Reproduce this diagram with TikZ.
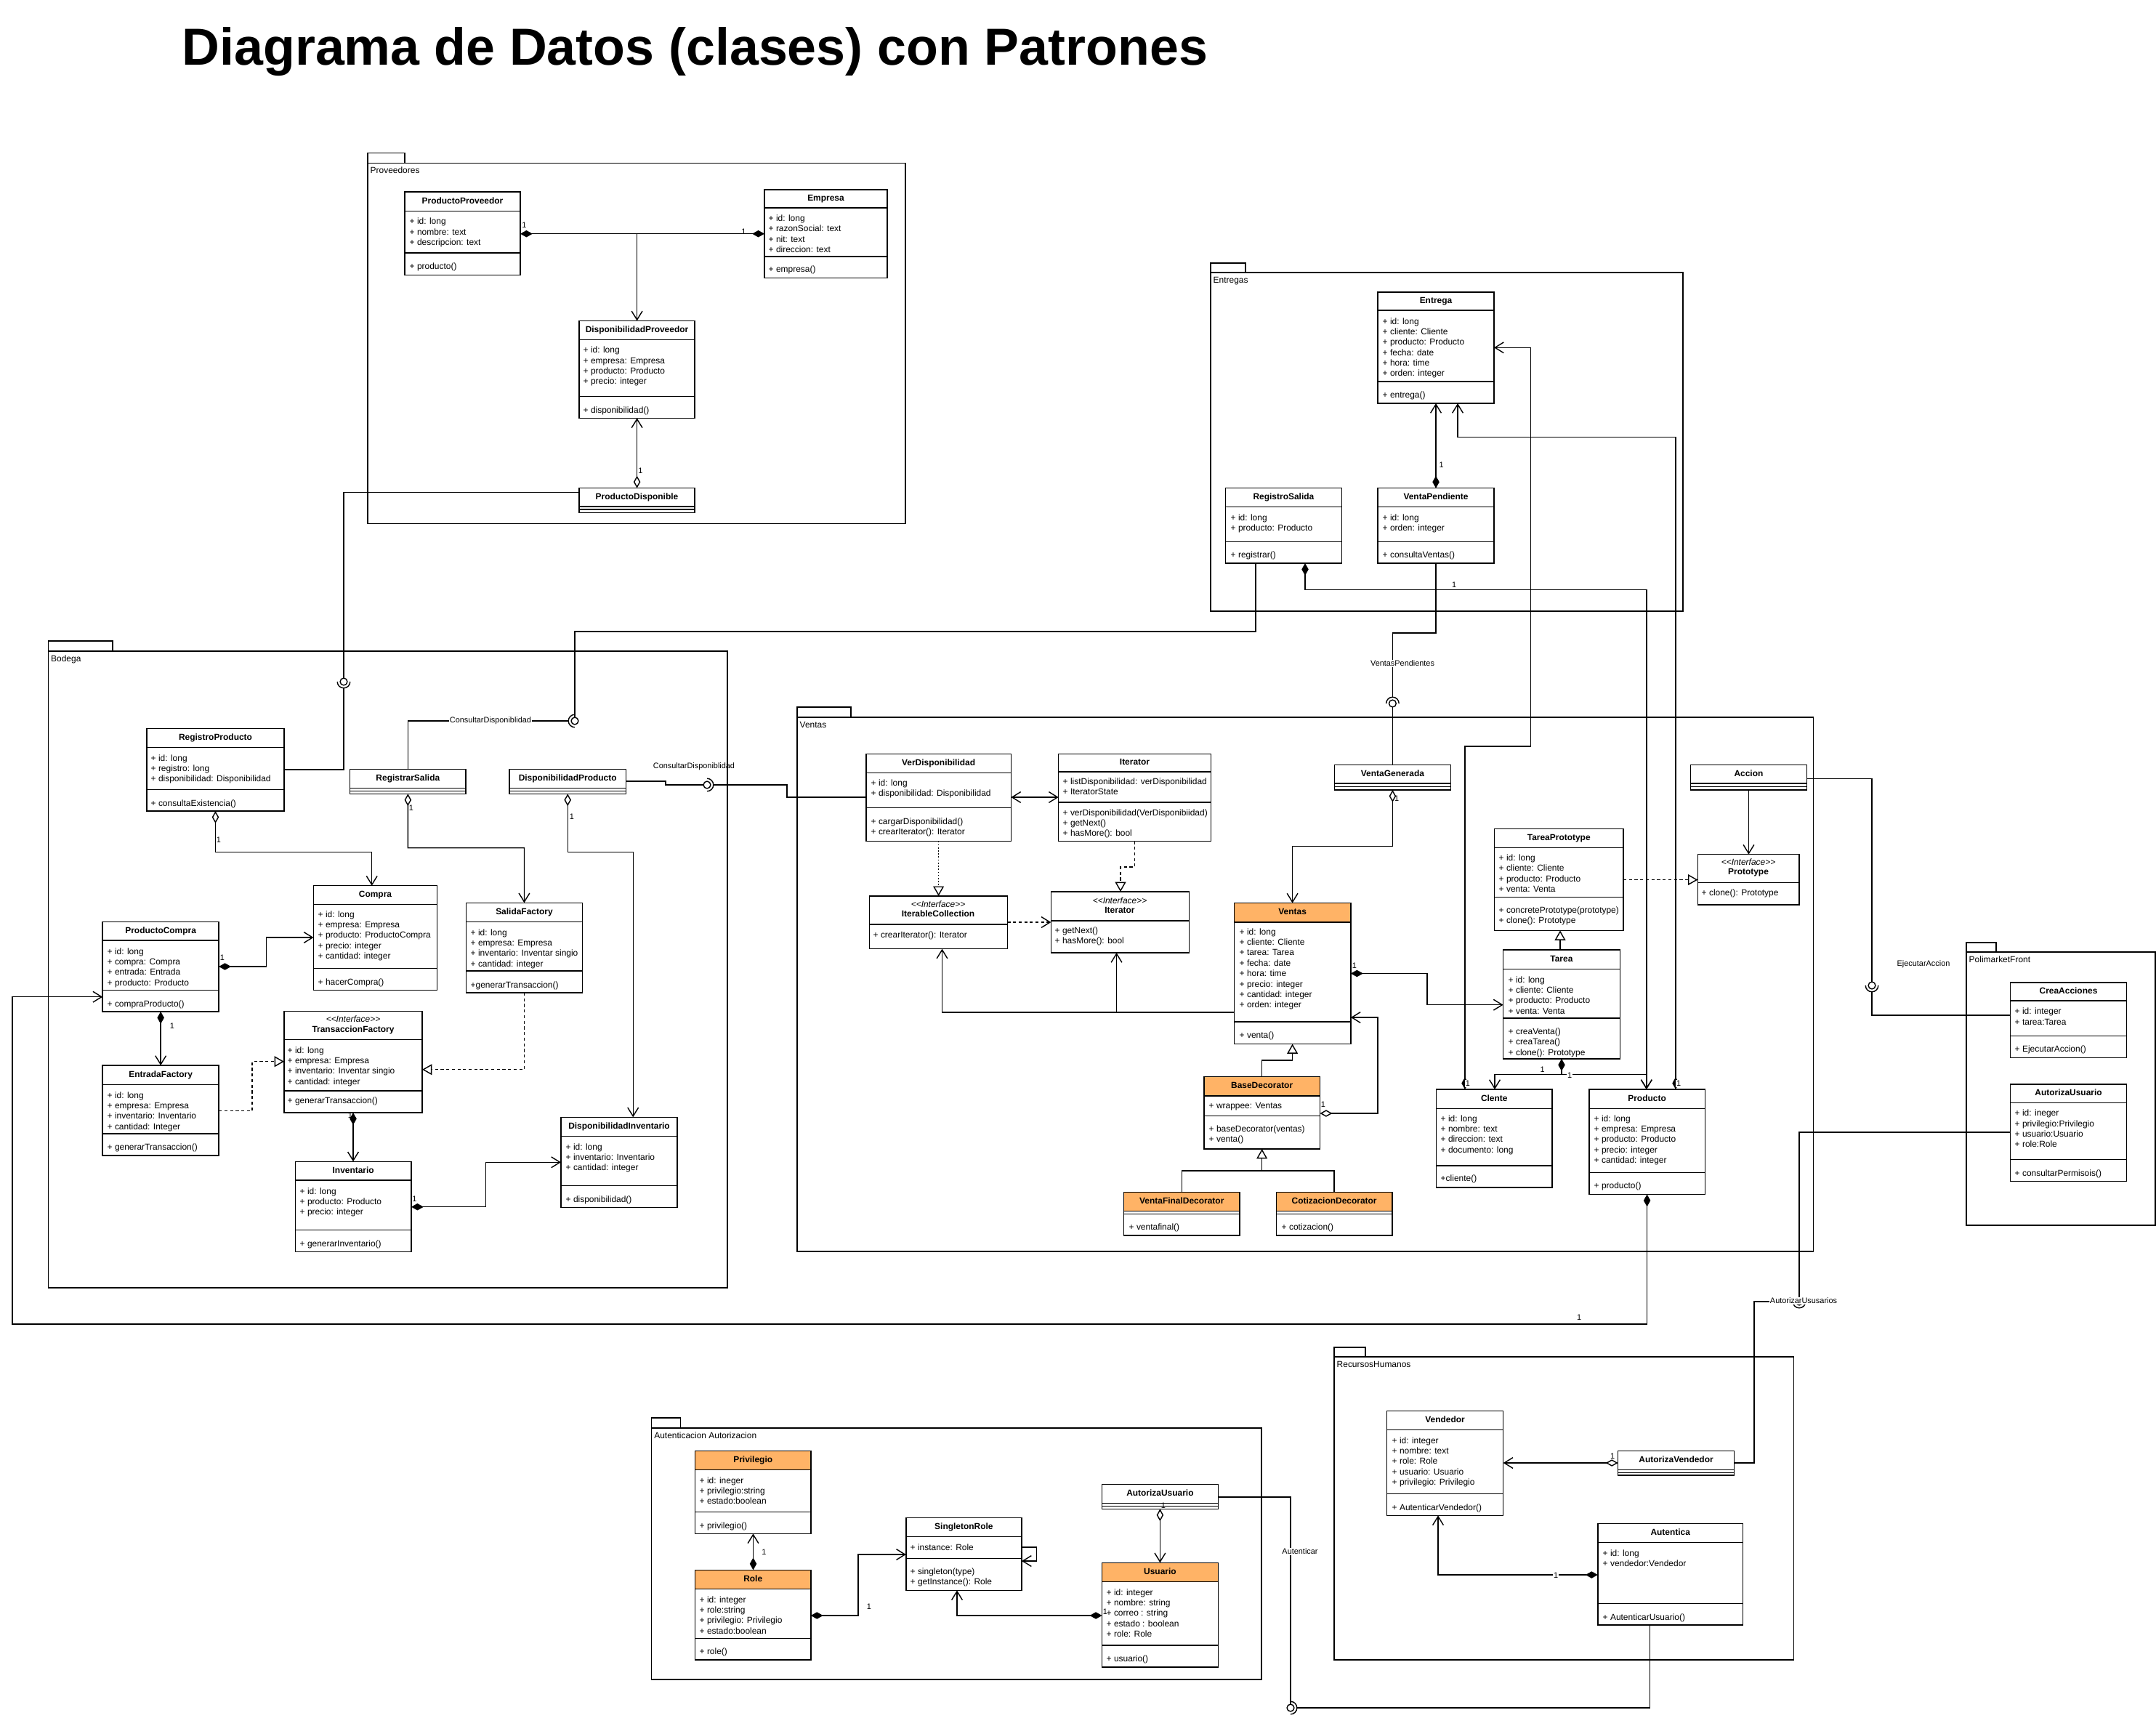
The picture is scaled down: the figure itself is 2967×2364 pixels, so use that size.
\documentclass[tikz,border=0pt]{standalone}
\usepackage{fontspec}
\setmainfont{Liberation Sans}
\usetikzlibrary{arrows.meta,fit}
\definecolor{orng}{HTML}{FFB366}
\newcommand\uf{\fontsize{3.4pt}{4.1pt}\selectfont}
\newcommand\lf{\fontsize{3.1pt}{3.7pt}\selectfont}
\newcommand\stereo{\textit{<\kern0pt<Interface>\kern0pt>}}
\tikzset{
  ln/.style={line width=0.4pt},
  ubx/.style={draw, line width=0.4pt, fill=white, inner sep=0pt, outer sep=0pt},
  pkg/.style={draw, line width=0.4pt, inner sep=0pt, outer sep=0pt},
  pkgl/.style={font=\uf, anchor=base west, inner sep=0pt},
  ttl/.style={font=\bfseries\uf, inner sep=0pt, text height=2.45pt, text depth=0.7pt},
  txt/.style={font=\uf, anchor=base west, inner sep=0pt},
  lbl/.style={font=\lf, inner sep=0.4pt},
  wlbl/.style={lbl, fill=white},
  dsh/.style={dash pattern=on 1.2pt off 1pt},
  dtt/.style={dash pattern=on 0.5pt off 0.7pt},
  umlOpen/.tip={Straight Barb[length=3.4pt,width=4.2pt]},
  umlComp/.tip={Diamond[length=4.8pt,width=2.7pt]},
  umlAgg/.tip={Diamond[length=4.8pt,width=2.7pt,fill=white]},
  umlGen/.tip={Triangle[length=3.8pt,width=4.2pt,fill=white]},
}
% class box: name, x1, y1, x2, y2, header bottom, attr bottom, header fill, title
\newcommand{\uclass}[9]{%
  \node[ubx, fit={(#2,#3) (#4,#5)}] (#1) {};
  \filldraw[ln, fill=#8] (#2,#3) rectangle (#4,#6);
  \ifx\relax#7\relax\else\draw[ln] (#2,#7) -- (#4,#7);\fi
  \node[ttl] (#1-t) at ({(#2+#4)/2},{(#3+#6)/2}) {#9};
}
\newcommand{\ulns}[3]{\foreach[count=\i] \tx in {#3}{\node[txt] at (#1,{#2+(\i-1)*14.4}) {\tx};}}
% package: name, x1, tab top, tab right, body top, x2, y2, label
\newcommand{\upkg}[8]{%
  \draw[ln] (#2,#3) rectangle (#4,#5);
  \node[pkg, fit={(#2,#5) (#6,#7)}] (#1) {};
  \node[pkgl] (#1-l) at ({#2+3},{#5+14.5}) {#8};
}
\newcommand{\ball}[2]{\draw[ln, fill=white] (#1,#2) circle[radius=1.4pt];}
\newcommand{\sock}[4]{\draw[ln] (#1,#2) ++(#3:2.5pt) arc[start angle=#3, end angle=#4, radius=2.5pt];}
\begin{document}
\begin{tikzpicture}[x=0.01cm,y=-0.01cm]
\useasboundingbox (0,0) rectangle (2967,2364);
\fill[white] (0,0) rectangle (2967,2364);

\node[anchor=base west, inner sep=0pt, font=\fontsize{20.4pt}{24pt}\selectfont\bfseries] (title) at (250,90) {Diagrama de Datos (clases) con Patrones};

% ---------------- packages
\upkg{pProv}{506}{210.8}{557}{224.3}{1246}{720.6}{Proveedores}
\upkg{pEnt}{1666}{362}{1714}{375}{2316}{841}{Entregas}
\upkg{pBod}{66.5}{882}{155}{896}{1001}{1772}{Bodega}
\upkg{pVen}{1097}{973}{1171}{987}{2495.5}{1722}{Ventas}
\upkg{pPF}{2706}{1297}{2747}{1310}{2966}{1686}{PolimarketFront}
\upkg{pAA}{896.6}{1951}{936.6}{1965}{1736}{2311}{Autenticacion Autorizacion}
\upkg{pRH}{1836}{1854}{1879}{1867}{2468.6}{2284}{RecursosHumanos}

% ---------------- Proveedores
\uclass{PP}{557}{264.2}{716}{378.5}{290.3}{348.1}{white}{ProductoProveedor}
\ulns{563}{308.8}{+ id: long, + nombre: text, + descripcion: text}
\ulns{563}{370.7}{+ producto()}
\uclass{EMP}{1052}{260.9}{1221}{382.6}{286.2}{352.8}{white}{Empresa}
\ulns{1057}{304.4}{+ id: long, + razonSocial: text, + nit: text, + direccion: text}
\ulns{1057}{374.7}{+ empresa()}
\uclass{DPROV}{797}{441.4}{956}{575.3}{467.7}{545.5}{white}{DisponibilidadProveedor}
\ulns{802}{485.6}{+ id: long, + empresa: Empresa, + producto: Producto, + precio: integer}
\ulns{802}{568}{+ disponibilidad()}
\uclass{PD}{797}{671.6}{956}{705.4}{697}{701}{white}{ProductoDisponible}

% ---------------- Entregas
\uclass{ENT}{1896}{402}{2056}{555}{427}{525}{white}{Entrega}
\ulns{1902}{446}{+ id: long, + cliente: Cliente, + producto: Producto, + fecha: date, + hora: time, + orden: integer}
\ulns{1902}{547}{+ entrega()}
\uclass{RSE}{1686.5}{671.7}{1846.3}{775}{697.3}{745.7}{white}{RegistroSalida}
\ulns{1693}{716}{+ id: long, + producto: Producto}
\ulns{1693}{767}{+ registrar()}
\uclass{VP}{1896}{671.7}{2056}{775}{697.3}{745.7}{white}{VentaPendiente}
\ulns{1902}{716}{+ id: long, + orden: integer}
\ulns{1902}{767}{+ consultaVentas()}

% ---------------- Bodega
\uclass{RP}{202}{1002.7}{391}{1116}{1028.3}{1086.7}{white}{RegistroProducto}
\ulns{207}{1047}{+ id: long, + registro: long, + disponibilidad: Disponibilidad}
\ulns{207}{1109}{+ consultaExistencia()}
\uclass{RSAL}{481.7}{1058.7}{641}{1092.3}{1084.3}{1088.3}{white}{RegistrarSalida}
\uclass{DPROD}{701}{1058.7}{861.4}{1092.3}{1084.3}{1088.3}{white}{DisponibilidadProducto}
\uclass{CMP}{431.5}{1218.7}{601.5}{1362.3}{1244.3}{1332.3}{white}{Compra}
\ulns{437}{1262}{+ id: long, + empresa: Empresa, + producto: ProductoCompra, + precio: integer, + cantidad: integer}
\ulns{437}{1355}{+ hacerCompra()}
\uclass{SF}{641.5}{1242.3}{801.4}{1366}{1268.3}{1336}{white}{SalidaFactory}
\ulns{647}{1287}{+ id: long, + empresa: Empresa, + inventario: Inventar singio, + cantidad: integer}
\ulns{647}{1359}{+generarTransaccion()}
\uclass{PC}{141.2}{1268.3}{301.1}{1392}{1294}{1362.3}{white}{ProductoCompra}
\ulns{147}{1313}{+ id: long, + compra: Compra, + entrada: Entrada, + producto: Producto}
\ulns{147}{1385}{+ compraProducto()}
\uclass{TF}{391}{1391.3}{581}{1531}{1430.7}{1501}{white}{}
\node[lbl, font=\uf] (TF-s) at (486,1402) {\stereo};
\node[ttl] (TF-n) at (486,1417) {TransaccionFactory};
\ulns{395}{1449}{+ id: long, + empresa: Empresa, + inventario: Inventar singio, + cantidad: integer}
\ulns{395}{1518}{+ generarTransaccion()}
\uclass{EF}{141.2}{1466}{301.1}{1590}{1492.3}{1560}{white}{EntradaFactory}
\ulns{147}{1511}{+ id: long, + empresa: Empresa, + inventario: Inventario, + cantidad: Integer}
\ulns{147}{1582}{+ generarTransaccion()}
\uclass{INV}{406.4}{1598.3}{566}{1722.3}{1624}{1692.3}{white}{Inventario}
\ulns{412}{1643}{+ id: long, + producto: Producto, + precio: integer}
\ulns{412}{1715}{+ generarInventario()}
\uclass{DI}{772}{1537.3}{932}{1661.3}{1563.3}{1631.7}{white}{DisponibilidadInventario}
\ulns{778}{1582}{+ id: long, + inventario: Inventario, + cantidad: integer}
\ulns{778}{1654}{+ disponibilidad()}

% ---------------- Ventas
\uclass{VD}{1191.8}{1037.6}{1391.4}{1157.3}{1063.2}{1111.7}{white}{VerDisponibilidad}
\ulns{1198}{1081}{+ id: long, + disponibilidad: Disponibilidad}
\ulns{1198}{1134}{+ cargarDisponibilidad(), + crearIterator(): Iterator}
\uclass{IT}{1456.7}{1037.6}{1666.3}{1157.3}{1062}{1104}{white}{Iterator}
\ulns{1462}{1079}{+ listDisponibilidad: verDisponibilidad, + IteratorState}
\ulns{1462}{1122}{+ verDisponibilidad(VerDisponibiidad), + getNext(), + hasMore(): bool}
\uclass{IC}{1196.5}{1232.9}{1386.3}{1305.6}{1272}{}{white}{}
\node[lbl, font=\uf] (IC-s) at (1291,1244) {\stereo};
\node[ttl] (IC-n) at (1291,1258) {IterableCollection};
\ulns{1201}{1290}{+ crearIterator(): Iterator}
\uclass{ITI}{1446.4}{1227.1}{1636.2}{1311}{1266.8}{}{white}{}
\node[lbl, font=\uf] (ITI-s) at (1541,1239) {\stereo};
\node[ttl] (ITI-n) at (1541,1253) {Iterator};
\ulns{1451}{1284}{+ getNext(), + hasMore(): bool}
\uclass{VG}{1836.4}{1052.6}{1996.4}{1087}{1077.8}{1082.2}{white}{VentaGenerada}
\uclass{VEN}{1698.3}{1242.6}{1858.9}{1436.5}{1268.8}{1406}{orng}{Ventas}
\ulns{1705}{1286}{+ id: long, + cliente: Cliente, + tarea: Tarea, + fecha: date, + hora: time, + precio: integer, + cantidad: integer, + orden: integer}
\ulns{1705}{1428}{+ venta()}
\uclass{BD}{1656.8}{1481.6}{1816.5}{1581}{1507.8}{1535.4}{orng}{BaseDecorator}
\ulns{1663}{1525}{+ wrappee: Ventas}
\ulns{1663}{1557}{+ baseDecorator(ventas), + venta()}
\uclass{VFD}{1546.5}{1640.6}{1706}{1700}{1666.3}{1670.4}{orng}{VentaFinalDecorator}
\ulns{1553}{1692.5}{+ ventafinal()}
\uclass{CD}{1756.4}{1640.6}{1915.9}{1700}{1666.3}{1670.4}{orng}{CotizacionDecorator}
\ulns{1763}{1692.5}{+ cotizacion()}
\uclass{TP}{2056.6}{1140.3}{2233.9}{1280.4}{1166.5}{1234.3}{white}{TareaPrototype}
\ulns{2062}{1184.5}{+ id: long, + cliente: Cliente, + producto: Producto, + venta: Venta}
\ulns{2062}{1256}{+ concretePrototype(prototype), + clone(): Prototype}
\uclass{TAR}{2068.6}{1307}{2229.2}{1456.9}{1333.7}{1401}{white}{Tarea}
\ulns{2075}{1352}{+ id: long, + cliente: Cliente, + producto: Producto, + venta: Venta}
\ulns{2075}{1423.5}{+ creaVenta(), + creaTarea(), + clone(): Prototype}
\uclass{ACC}{2326.4}{1052.6}{2486.5}{1087}{1077.8}{1082.2}{white}{Accion}
\uclass{PROT}{2336.4}{1175.7}{2476}{1245}{1214.5}{}{white}{}
\node[lbl, font=\uf] (PROT-s) at (2406,1186) {\stereo};
\node[ttl] (PROT-n) at (2406,1200) {Prototype};
\ulns{2341}{1232.5}{+ clone(): Prototype}
\uclass{CLI}{1976.5}{1499}{2136}{1633.8}{1525.2}{1603.8}{white}{Clente}
\ulns{1982}{1543}{+ id: long, + nombre: text, + direccion: text, + documento: long}
\ulns{1982}{1625}{+cliente()}
\uclass{PROD}{2186.8}{1499}{2346.3}{1643.5}{1525.2}{1613.5}{white}{Producto}
\ulns{2193}{1543}{+ id: long, + empresa: Empresa, + producto: Producto, + precio: integer, + cantidad: integer}
\ulns{2193}{1635}{+ producto()}

% ---------------- PolimarketFront
\uclass{CA}{2766.7}{1351.8}{2926.3}{1455.5}{1377}{1425.6}{white}{CreaAcciones}
\ulns{2772}{1395.6}{+ id: integer, + tarea:Tarea}
\ulns{2772}{1447}{+ EjecutarAccion()}
\uclass{AUPF}{2766.7}{1491.9}{2926.3}{1625.4}{1517.6}{1595.6}{white}{AutorizaUsuario}
\ulns{2772}{1535.7}{+ id: ineger, + privilegio:Privilegio, + usuario:Usuario, + role:Role}
\ulns{2772}{1618}{+ consultarPermisois()}

% ---------------- Autenticacion Autorizacion
\uclass{PRIV}{956.6}{1996.7}{1115.8}{2110.3}{2022.3}{2080.3}{orng}{Privilegio}
\ulns{962}{2041}{+ id: ineger, + privilegio:string, + estado:boolean}
\ulns{962}{2103}{+ privilegio()}
\uclass{ROLE}{956.6}{2160.3}{1115.8}{2284}{2186.7}{2254.3}{orng}{Role}
\ulns{962}{2205}{+ id: integer, + role:string, + privilegio: Privilegio, + estado:boolean}
\ulns{962}{2276}{+ role()}
\uclass{SR}{1246.8}{2088.3}{1406}{2188.3}{2114.3}{2144.3}{white}{SingletonRole}
\ulns{1252}{2133}{+ instance: Role}
\ulns{1252}{2166}{+ singleton(type), + getInstance(): Role}
\uclass{AUA}{1516.5}{2042.3}{1676.3}{2076.3}{2068.3}{2072.3}{white}{AutorizaUsuario}
\uclass{USU}{1516.5}{2150.3}{1676.3}{2294}{2176.7}{2264}{orng}{Usuario}
\ulns{1522}{2195}{+ id: integer, + nombre: string, + correo : string, + estado : boolean, + role: Role}
\ulns{1522}{2286}{+ usuario()}

% ---------------- RecursosHumanos
\uclass{VEND}{1908.4}{1941.3}{2068.7}{2085.3}{1967.3}{2055.7}{white}{Vendedor}
\ulns{1915}{1986}{+ id: integer, + nombre: text, + role: Role, + usuario: Usuario, + privilegio: Privilegio}
\ulns{1915}{2078}{+ AutenticarVendedor()}
\uclass{AV}{2226.6}{1996.7}{2386.5}{2030}{2022.7}{2026.7}{white}{AutorizaVendedor}
\uclass{AUT}{2198.8}{2096.7}{2398.7}{2236}{2122.7}{2206.7}{white}{Autentica}
\ulns{2205}{2141}{+ id: long, + vendedor:Vendedor}
\ulns{2205}{2229}{+ AutenticarUsuario()}

% ================= connectors
% Proveedores
\draw[ln, {umlComp}-{umlComp}] (PP.east |- 0,321.7) -- (EMP.west |- 0,321.7);
\coordinate (jP) at (876.6,321.7);
\draw[ln, -{umlOpen}] (jP) -- (DPROV.north -| jP);
\draw[ln, {umlAgg}-{umlOpen}] (PD.north -| jP) -- (DPROV.south -| jP);
\node[lbl] at (721.5,309.9) {1};
\node[lbl] at (1023.5,318.3) {1};
\node[lbl] at (881.5,648) {1};

% Bodega
\draw[ln, {umlAgg}-{umlOpen}] (RP.south) -- (RP.south |- 0,1172.3) -- (511.7,1172.3) -- (CMP.north -| 511.7,0);
\node[lbl] at (301,1156) {1};
\draw[ln, {umlAgg}-{umlOpen}] (RSAL.south) -- (RSAL.south |- 0,1166.7) -- (721.5,1166.7) -- (SF.north);
\node[lbl] at (566,1112) {1};
\draw[ln, {umlAgg}-{umlOpen}] (DPROD.south) -- (DPROD.south |- 0,1172.3) -- (871.2,1172.3) -- (DI.north -| 871.2,0);
\node[lbl] at (787,1124) {1};
\draw[ln, {umlComp}-{umlOpen}] (PC.east |- 0,1330) -- (366.6,1330) -- (366.6,1290) -- (CMP.west |- 0,1290);
\node[lbl] at (306,1318) {1};
\draw[ln, {umlComp}-{umlOpen}] (PC.south) -- (EF.north);
\node[lbl] at (237,1412) {1};
\draw[ln, dsh, -{umlGen}] (EF.east |- 0,1528.3) -- (347,1528.3) -- (347,1460.7) -- (TF.west |- 0,1460.7);
\draw[ln, dsh, -{umlGen}] (SF.south) -- (SF.south |- 0,1471.7) -- (TF.east |- 0,1471.7);
\draw[ln, {umlComp}-{umlOpen}] (TF.south) -- (INV.north -| TF.south);
\node[lbl] at (482,1535) {1};
\draw[ln, {umlComp}-{umlOpen}] (INV.east |- 0,1660.7) -- (668.5,1660.7) -- (668.5,1599.3) -- (DI.west |- 0,1599.3);
\node[lbl] at (570.5,1650) {1};

% Entregas
\draw[ln, {umlComp}-{umlOpen}] (VP.north) -- (ENT.south);
\node[lbl] at (1983.5,639.3) {1};
\draw[ln, {umlComp}-{umlOpen}] (CLI.north -| 2016,0) -- (2016,1026.9) -- (2106.7,1026.9) -- (2106.7,478.3) -- (ENT.east |- 0,478.3);
\draw[ln, {umlComp}-{umlOpen}] (PROD.north -| 2306,0) -- (2306,601.7) -- (2006,601.7) -- (ENT.south -| 2006,0);
\draw[ln, {umlComp}-{umlOpen}] (RSE.south -| 1796,0) -- (1796,811.7) -- (2265.8,811.7) -- (PROD.north -| 2265.8,0);
\node[lbl] at (2001,805) {1};
\node[wlbl] at (2020,1491) {1};
\node[wlbl] at (2310,1491) {1};

% Ventas
\draw[ln, {umlOpen}-{umlOpen}] (VD.east |- 0,1097) -- (IT.west |- 0,1097);
\draw[ln, dtt, -{umlGen}] (VD.south) -- (IC.north -| VD.south);
\draw[ln, dsh, -{umlGen}] (IT.south) -- (IT.south |- 0,1193) -- (1542,1193) -- (ITI.north -| 1542,0);
\draw[ln, dsh, -{umlOpen}] (IC.east |- 0,1269) -- (ITI.west |- 0,1269);
\draw[ln, -{umlOpen}] (VEN.west |- 0,1393) -- (1296.5,1393) -- (IC.south -| 1296.5,0);
\coordinate (jV) at (1536.5,1393);
\draw[ln, -{umlOpen}] (jV) -- (ITI.south -| jV);
\draw[ln, {umlAgg}-{umlOpen}] (VG.south -| 1916.4,0) -- (1916.4,1164.6) -- (1778.6,1164.6) -- (VEN.north);
\node[lbl] at (1922,1099) {1};
\draw[ln, -{umlGen}] (BD.north) -- (BD.north |- 0,1459) -- (1778.6,1459) -- (VEN.south);
\draw[ln, {umlAgg}-{umlOpen}] (BD.east |- 0,1532) -- (1896,1532) -- (1896,1400) -- (VEN.east |- 0,1400);
\node[lbl] at (1821,1520) {1};
\coordinate (jD) at (1736.65,1611);
\draw[ln, -{umlGen}] (VFD.north) -- (VFD.north |- jD) -- (jD) -- (BD.south);
\draw[ln] (CD.north) -- (CD.north |- jD) -- (jD);
\draw[ln, {umlComp}-{umlOpen}] (VEN.east |- 0,1339.5) -- (1964,1339.5) -- (1964,1382.7) -- (TAR.west |- 0,1382.7);
\node[lbl] at (1864,1328.4) {1};
\draw[ln, -{umlGen}] (TAR.north -| 2147,0) -- (TP.south -| 2147,0);
\draw[ln, dsh, -{umlGen}] (TP.east |- 0,1210.6) -- (PROT.west |- 0,1210.6);
\draw[ln, -{umlOpen}] (ACC.south) -- (PROT.north -| ACC.south);
\coordinate (jT) at (2149,1478.7);
\draw[ln, {umlComp}-{umlOpen}] (TAR.south -| jT) -- (jT) -- (2057,1478.7) -- (CLI.north -| 2057,0);
\draw[ln, -{umlOpen}] (jT) -- (2265.8,1478.7) -- (PROD.north -| 2265.8,0);
\node[lbl] at (2122.5,1472) {1};
\node[wlbl] at (2160,1479.6) {1};
\draw[ln, {umlComp}-{umlOpen}] (PROD.south) -- (PROD.south |- 0,1822) -- (17,1822) -- (17,1371.7) -- (PC.west |- 0,1371.7);
\node[lbl] at (2173,1813) {1};

% Autenticacion
\draw[ln, {umlComp}-{umlOpen}] (ROLE.north -| 1036.5,0) -- (PRIV.south -| 1036.5,0);
\node[lbl] at (1051.5,2136) {1};
\draw[ln, {umlComp}-{umlOpen}] (ROLE.east |- 0,2223) -- (1181,2223) -- (1181,2139) -- (SR.west |- 0,2139);
\node[lbl] at (1196,2211) {1};
\draw[ln, -{umlOpen}] (SR.east |- 0,2129) -- (1426.6,2129) -- (1426.6,2148) -- (SR.east |- 0,2148);
\draw[ln, {umlComp}-{umlOpen}] (USU.west |- 0,2223) -- (1317,2223) -- (SR.south -| 1317,0);
\node[lbl] at (1521,2217.7) {1};
\draw[ln, {umlAgg}-{umlOpen}] (AUA.south) -- (USU.north);
\node[lbl] at (1601,2072) {1};

% RecursosHumanos
\draw[ln, {umlAgg}-{umlOpen}] (AV.west |- 0,2013) -- (VEND.east |- 0,2013);
\node[lbl] at (2219,2004) {1};
\draw[ln, {umlComp}-{umlOpen}] (AUT.west |- 0,2167) -- (1979,2167) -- (VEND.south -| 1979,0);
\node[wlbl] at (2141,2168) {1};

% ================= ball and socket interfaces
% BS1
\draw[ln] (PD.west |- 0,677.3) -- (473,677.3) -- (473,933.1);
\draw[ln] (RP.east |- 0,1059) -- (473,1059) -- (473,946.8);
\ball{473}{938}\sock{473}{938}{180}{360}
% BS2
\draw[ln] (RSE.south -| 1728,0) -- (1728,869) -- (791,869) -- (791,987.1);
\draw[ln] (RSAL.north) -- (RSAL.north |- 0,992) -- (782.2,992);
\ball{791}{992}\sock{791}{992}{90}{270}
\node[wlbl] at (675,992) {ConsultarDisponiblidad};
% BS3
\draw[ln] (DPROD.east |- 0,1075) -- (916,1075) -- (916,1080) -- (968.1,1080);
\draw[ln] (VD.west |- 0,1097) -- (1083,1097) -- (1083,1080) -- (981.8,1080);
\ball{973}{1080}\sock{973}{1080}{-90}{90}
\node[lbl] at (955,1054.3) {ConsultarDisponiblidad};
% BS4
\draw[ln] (VP.south) -- (VP.south |- 0,871) -- (1916.4,871) -- (1916.4,959.2);
\draw[ln] (VG.north) -- (1916.4,972.9);
\ball{1916.4}{968}\sock{1916.4}{968}{0}{180}
\node[wlbl] at (1930,913) {VentasPendientes};
% BS5
\draw[ln] (ACC.east |- 0,1071.5) -- (2576,1071.5) -- (2576,1351.1);
\draw[ln] (CA.west |- 0,1397) -- (2576,1397) -- (2576,1364.8);
\ball{2576}{1356}\sock{2576}{1356}{180}{360}
\node[lbl] at (2647,1327) {EjecutarAccion};
% BS6
\draw[ln] (AUPF.west |- 0,1558) -- (2476,1558) -- (2476,1786.1);
\draw[ln] (AV.east |- 0,2013) -- (2414,2013) -- (2414,1791) -- (2467.2,1791);
\ball{2476}{1791}\sock{2476}{1791}{180}{360}
\node[wlbl] at (2482,1790) {AutorizarUsusarios};
% BS7
\draw[ln] (AUA.east |- 0,2060) -- (1776,2060) -- (1776,2345.1);
\draw[ln] (AUT.south -| 2270.5,0) -- (2270.5,2350) -- (1784.8,2350);
\ball{1776}{2350}\sock{1776}{2350}{-90}{90}
\node[wlbl] at (1789,2135) {Autenticar};
\end{tikzpicture}
\end{document}
